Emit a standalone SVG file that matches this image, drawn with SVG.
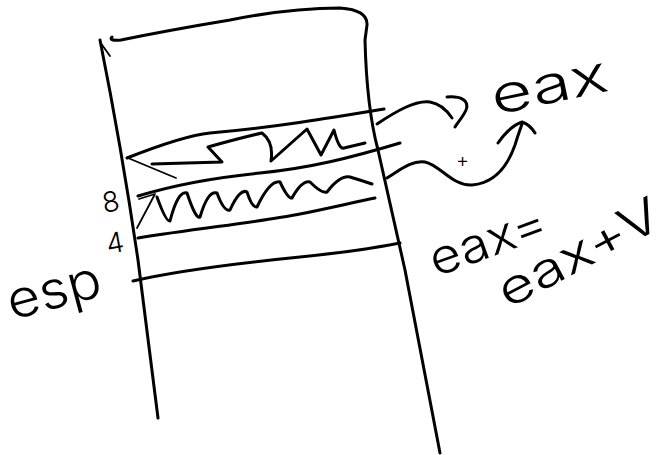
<svg xmlns="http://www.w3.org/2000/svg" width="669" height="455" viewBox="0 0 669 455">
<style>
.s{fill:none;stroke:#000;stroke-width:3;stroke-linecap:round;stroke-linejoin:round}
.t{fill:none;stroke:#000;stroke-width:1.8;stroke-linecap:round;stroke-linejoin:round}
.h{font-family:Inter,"Open Sans","Liberation Sans",sans-serif;font-weight:300;fill:#000}
</style>
<rect width="669" height="455" fill="#fff"/>
<g id="stack">
<path class="s" d="M100,40 Q122,150 138,260 L158,418"/>
<path class="t" d="M100,42 L110,56"/>
<path class="s" d="M112,37 Q108,41 121,40 C160,32 200,25 230,20 Q290,8 340,8 Q368,10 367,25 L365,40 C366,80 370,120 378,150 C385,180 395,225 405,270 L440,453"/>
</g>
<g id="slot-top">
<path class="s" d="M127,158 C160,145 190,135 210,133 C270,128 330,118 384,109"/>
<path class="t" d="M128,158 L176,178"/>
<path class="s" d="M152,164 L222,162 L208,147 Q240,138 262,133 Q274,142 271,161 L307,129 L321,155 L334,130 Q339,150 344,148 L365,143"/>
</g>
<g id="slot-8">
<path class="s" d="M138,196 C180,183 220,177 260,173 C310,168 350,158 400,143"/>
<path class="t" d="M139,199 L155,194 L137,228"/>
<path class="s" d="M157,197 Q166,222 170,221 Q178,190 187,193 Q196,220 200,217 Q208,190 217,193 Q224,212 230,210 Q240,188 247,192 Q252,208 257,207 Q270,180 280,182 Q288,199 292,198 Q302,180 310,182 Q322,194 327,192 Q340,175 350,177 Q360,180 372,184"/>
</g>
<g id="slot-4">
<path class="s" d="M138,238 C200,228 260,222 300,214 C330,208 355,202 375,198"/>
<path class="s" d="M133,281 C180,270 250,262 300,257 C340,253 375,248 400,243"/>
</g>
<g id="labels">
<text class="h" x="104" y="213" font-size="28" transform="rotate(-10 104 213)">8</text>
<text class="h" x="108" y="254" font-size="28" transform="rotate(-10 108 254)">4</text>
<text class="h" x="12" y="320" font-size="52" textLength="96" lengthAdjust="spacingAndGlyphs" transform="rotate(-15 12 320)">esp</text>
<text class="h" x="495" y="115" font-size="52" textLength="118" lengthAdjust="spacingAndGlyphs" transform="rotate(-12 495 115)">eax</text>
<text class="h" x="456" y="167" font-size="20">+</text>
<text class="h" x="436" y="277" font-size="48" textLength="122" lengthAdjust="spacingAndGlyphs" transform="rotate(-20 436 277)">eax=</text>
<text class="h" x="508" y="309" font-size="48" textLength="178" lengthAdjust="spacingAndGlyphs" transform="rotate(-28 508 309)">eax+V</text>
</g>
<g id="connectors">
<path class="s" d="M377,124 C395,112 415,100 430,102 C442,104 448,112 452,118"/>
<path class="s" d="M447,97 C460,96 470,100 466,110 C463,117 458,122 455,127"/>
<path class="s" d="M387,178 C400,170 412,160 425,162 C440,165 452,186 472,185 C495,183 508,165 515,145 C518,135 520,130 522,124"/>
<path class="s" d="M498,143 C505,133 513,125 522,122 C528,124 532,128 535,133"/>
</g>
</svg>
